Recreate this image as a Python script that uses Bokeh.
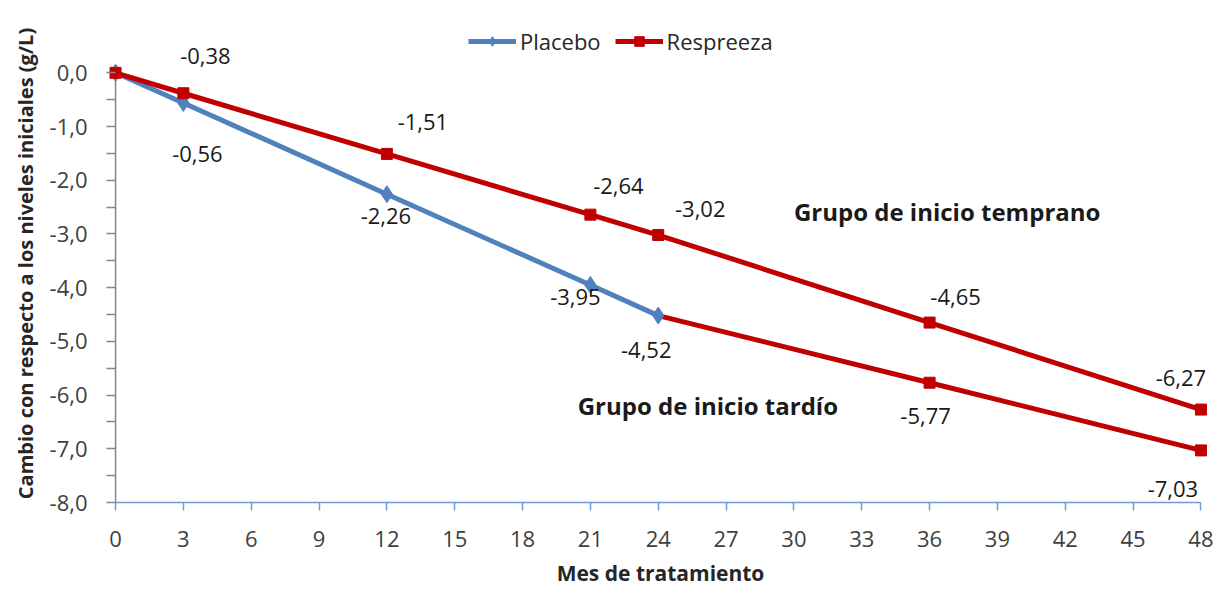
from bokeh.plotting import figure
from bokeh.models import (ColumnDataSource, Range1d, FixedTicker, CustomJSTickFormatter,
                          Legend, LegendItem, Label)
from bokeh.core.properties import value
from bokeh.embed import file_html
from bokeh.resources import INLINE

# ---- data ----
placebo_x = [0, 3, 12, 21, 24]
placebo_y = [0.0, -0.56, -2.26, -3.95, -4.52]

early_x = [0, 3, 12, 21, 24, 36, 48]
early_y = [0.0, -0.38, -1.51, -2.64, -3.02, -4.65, -6.27]

late_x = [24, 36, 48]
late_y = [-4.52, -5.77, -7.03]

x_ticks = list(range(0, 49, 3))
y_ticks = [0, -1, -2, -3, -4, -5, -6, -7, -8]
y_minor = [-0.5, -1.5, -2.5, -3.5, -4.5, -5.5, -6.5, -7.5]

series_names = ["Placebo", "Respreeza"]
group_labels = ["Grupo de inicio temprano", "Grupo de inicio tardío"]

BLUE = "#4F81BD"
RED = "#C00000"
GRAY = "#868686"
FONT = "Open Sans"
NUM = "22px"

def fmt(v):
    return ("%.2f" % v).replace(".", ",")

p = figure(width=1214, height=589, output_backend="svg", toolbar_location=None,
           x_range=Range1d(-0.4, 48.6), y_range=Range1d(-8, 0.9),
           min_border_left=106, min_border_right=0, min_border_top=24, min_border_bottom=86)
p.outline_line_color = None
p.grid.visible = False
p.background_fill_color = "white"
p.border_fill_color = "white"

# x axis (frame bottom is exactly y=-8)
xa = p.xaxis[0]
xa.bounds = (x_ticks[0], x_ticks[-1])
xa.ticker = FixedTicker(ticks=x_ticks)
xa.axis_line_color = "#6F9AD3"
xa.axis_line_width = 1.5
xa.major_tick_line_color = "#6F9AD3"
xa.major_tick_line_width = 1.5
xa.major_tick_out = 8
xa.major_tick_in = 0
xa.minor_tick_line_color = None
xa.major_label_text_font = FONT
xa.major_label_text_font_size = NUM
xa.major_label_text_color = "#404040"
xa.major_label_standoff = 20
xa.axis_label = "Mes de tratamiento"
xa.axis_label_text_font = FONT
xa.axis_label_text_font_style = "bold"
xa.axis_label_text_font_size = "21px"
xa.axis_label_text_color = "#262626"
xa.axis_label_standoff = 9

# y axis: ticks drawn from the frame edge up to x=0, axis line drawn at x=0
ya = p.yaxis[0]
ya.bounds = (y_ticks[-1], y_ticks[0])
ya.ticker = FixedTicker(ticks=y_ticks, minor_ticks=y_minor)
ya.formatter = CustomJSTickFormatter(code="return tick.toFixed(1).replace('.', ',');")
ya.axis_line_color = None
ya.major_tick_line_color = GRAY
ya.minor_tick_line_color = GRAY
ya.major_tick_line_width = 1.5
ya.minor_tick_line_width = 1.5
ya.major_tick_out = 0
ya.major_tick_in = 9
ya.minor_tick_out = 0
ya.minor_tick_in = 9
ya.major_label_text_font = FONT
ya.major_label_text_font_size = NUM
ya.major_label_text_color = "#404040"
ya.major_label_standoff = 19
ya.axis_label = "Cambio con respecto a los niveles iniciales (g/L)"
ya.axis_label_text_font = FONT
ya.axis_label_text_font_style = "bold"
ya.axis_label_text_font_size = "20px"
ya.axis_label_text_color = "#262626"
ya.axis_label_standoff = 8

p.segment(x0=[x_ticks[0]], y0=[y_ticks[-1]], x1=[x_ticks[0]], y1=[y_ticks[0]],
          line_color=GRAY, line_width=1.5)

# series
r_late_line = p.line(late_x, late_y, line_color=RED, line_width=5)
r_late_pts = p.scatter(late_x[1:], late_y[1:], marker="square", size=11,
                       fill_color=RED, line_color=RED)
r_pl_line = p.line(placebo_x, placebo_y, line_color=BLUE, line_width=5)
r_pl_pts = p.scatter(placebo_x, placebo_y, marker="diamond", size=17,
                     fill_color=BLUE, line_color=BLUE)
r_ea_line = p.line(early_x, early_y, line_color=RED, line_width=5)
r_ea_pts = p.scatter(early_x, early_y, marker="square", size=11,
                     fill_color=RED, line_color=RED)

# data labels
def add_labels(xs, ys, dx, dy):
    src = ColumnDataSource(dict(x=xs, y=ys, t=[fmt(v) for v in ys], dx=dx, dy=dy))
    p.text(x="x", y="y", text="t", x_offset="dx", y_offset="dy", source=src,
           text_font=value(FONT), text_font_size=NUM, text_color="#1a1a1a",
           text_align="center", text_baseline="middle")

# Respreeza early (skip 0)
add_labels(early_x[1:], early_y[1:],
           [22, 36, 28, 42, 26, -20],
           [-37, -32, -29, -26, -26, -32])
# Placebo (skip 0)
add_labels(placebo_x[1:], placebo_y[1:],
           [14, -1, -15, -12],
           [51, 22, 12, 34])
# Respreeza late (skip 24)
add_labels(late_x[1:], late_y[1:],
           [-4, -28],
           [33, 39])

# group annotations
p.add_layout(Label(x=30.0, y=-2.58, text=group_labels[0], text_font=FONT,
                   text_font_style="bold", text_font_size="24px", text_color="#1a1a1a",
                   text_baseline="middle"))
p.add_layout(Label(x=20.44, y=-6.2, text=group_labels[1], text_font=FONT,
                   text_font_style="bold", text_font_size="24px", text_color="#1a1a1a",
                   text_baseline="middle"))

legend = Legend(items=[LegendItem(label=series_names[0], renderers=[r_pl_line, r_pl_pts]),
                       LegendItem(label=series_names[1], renderers=[r_ea_line, r_ea_pts])],
                orientation="horizontal", location=(362, 446),
                border_line_color=None, background_fill_alpha=0,
                label_text_font=FONT, label_text_font_size=NUM, label_text_color="#262626",
                glyph_width=48, glyph_height=24, spacing=14, label_standoff=4,
                padding=2, margin=0)
p.add_layout(legend, "center")

open("out.html", "w").write(file_html(p, INLINE))
